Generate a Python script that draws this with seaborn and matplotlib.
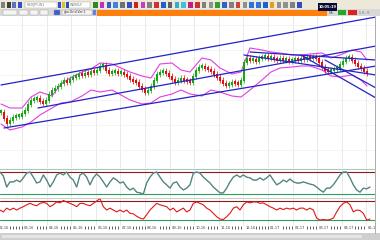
import numpy as np
import pandas as pd
import matplotlib
matplotlib.use("Agg")
import matplotlib.pyplot as plt
import seaborn as sns
from matplotlib.patches import Rectangle

sns.set_style("white")
plt.rcParams['font.family'] = ['DejaVu Sans']

# ---------------- data ----------------
close = [113.8, 113.2, 112.7, 113.0, 113.3, 113.4, 113.4, 113.7, 114.0, 114.6,
         115.0, 115.1, 115.2, 114.9, 114.7, 115.0, 115.6, 116.0, 116.2, 116.4,
         116.7, 117.0, 116.8, 117.1, 117.3, 117.4, 117.6, 117.5, 117.7, 117.6,
         117.9, 117.8, 118.0, 118.4, 118.5, 118.0, 117.7, 117.8, 117.9, 117.7,
         117.8, 117.6, 117.4, 117.1, 116.9, 116.8, 116.4, 116.1, 115.8, 116.0,
         116.4, 117.0, 117.6, 117.8, 117.9, 117.7, 117.4, 117.1, 116.8, 117.0,
         117.2, 117.0, 116.9, 116.8, 117.4, 118.0, 118.3, 118.4, 118.2, 118.1,
         117.9, 117.6, 117.3, 117.0, 116.7, 116.5, 116.6, 116.8, 116.7, 116.6,
         117.0, 118.8, 119.2, 119.0, 119.1, 118.9, 119.2, 119.3, 119.4, 119.2,
         119.3, 119.1, 119.0, 119.2, 119.0, 119.1, 118.9, 119.0, 119.1, 119.0,
         119.2, 119.1, 119.3, 119.2, 119.3, 119.2, 118.8, 118.3, 118.0, 117.9,
         118.0, 118.1, 118.2, 118.6, 118.9, 119.2, 119.3, 119.0, 118.7, 118.4,
         118.2, 117.9, 117.7]

band_day = [0, 3, 7, 10, 13, 17, 20, 23, 27, 30, 33, 37, 40, 43, 47, 50, 53, 57, 60,
            63, 67, 70, 73, 77, 80, 83, 87, 90, 93, 97, 100, 103, 107, 110, 113, 117,
            120, 122]
upper_band = [114.6, 114.2, 114.2, 115.3, 115.8, 115.4, 116.6, 117.2, 117.8, 118.1,
              118.7, 118.6, 118.2, 117.8, 117.4, 117.2, 118.6, 118.7, 118.0, 117.8,
              119.2, 119.0, 118.2, 117.6, 117.8, 120.2, 120.0, 119.8, 119.7, 119.5,
              119.5, 119.6, 119.7, 119.2, 119.5, 120.0, 119.8, 119.0]
lower_band = [112.6, 112.0, 112.3, 112.8, 113.5, 114.2, 114.7, 114.8, 115.4, 116.0,
              115.8, 116.0, 115.5, 115.0, 114.6, 114.7, 115.3, 115.6, 116.0, 115.6,
              115.4, 116.0, 115.8, 115.4, 115.3, 116.0, 117.0, 117.8, 118.2, 118.3,
              118.4, 118.4, 118.0, 117.4, 117.3, 117.5, 117.0, 116.4]

# trend lines: (start day, start price, end day, end price)
trend_start_day = [0, 12.3, 1, 83, 81, 100, 108]
trend_start_price = [116.5, 114.2, 112.2, 119.8, 119.5, 119.5, 119.0]
trend_end_day = [125, 125, 125, 125, 125, 125, 125]
trend_end_price = [123.3, 120.4, 118.4, 119.0, 117.5, 115.2, 116.2]

stoch = [80, 69, 39, 53, 53, 58, 53, 64, 77, 80, 66, 50, 53, 72, 58, 39, 53, 72, 77, 72,
         80, 66, 58, 39, 72, 77, 66, 45, 64, 75, 66, 53, 39, 53, 64, 58, 50, 53, 39, 31,
         36, 25, 23, 20, 50, 66, 77, 80, 66, 53, 45, 36, 50, 53, 39, 31, 36, 45,
         77, 80, 77, 66, 58, 50, 39, 31, 23, 23, 36, 53, 66, 72, 66, 72, 66, 64, 58, 58,
         64, 58, 64, 72, 58, 45, 50, 58, 53, 61, 53, 50, 50, 53, 50, 47, 45, 39, 31, 25,
         36, 36, 45, 58, 72, 80, 80, 64, 45, 31, 25, 36, 34, 39]
rsi = [51, 47, 55, 51, 55, 51, 55, 58, 62, 65, 62, 60, 65, 67, 65, 58, 62, 68, 66, 71,
       68, 65, 62, 58, 65, 65, 62, 60, 65, 70, 75, 58, 51, 55, 51, 47, 51, 47, 51, 44,
       43, 38, 34, 32, 41, 51, 58, 65, 62, 60, 58, 51, 55, 47, 51, 55, 47, 51,
       65, 68, 65, 62, 55, 51, 44, 37, 32, 31, 37, 44, 55, 58, 51, 62, 68, 66, 68, 68,
       65, 66, 62, 58, 55, 51, 55, 52, 55, 53, 55, 51, 55, 55, 51, 55, 51, 34, 30, 31,
       30, 31, 34, 47, 58, 65, 68, 62, 47, 51, 50, 44, 30, 32]

date_labels = ["02-16", "03-16", "04-16", "05-16", "06-16", "07-16", "08-16", "09-16",
               "10-16", "11-16", "12-16", "01-17", "02-17", "03-17", "04-17", "05-17"]

stoch_levels = [80, 20]
rsi_levels = [70, 30]

# ---------------- figure ----------------
W, H = 380, 240
fig = plt.figure(figsize=(3.8, 2.4), dpi=100)
fig.patch.set_facecolor('white')


def fy(py):
    return 1 - py / H


XMIN, XMAX = -0.33, 124.67
PLOT_W = 375 / W
grid_days = [(-2.6 + 24.6 * k - 1) / 3 for k in range(16)]

# main price panel
ax = fig.add_axes([0, fy(168), PLOT_W, (168 - 16) / H])
days = np.arange(len(close))
c = np.array(close)
o = np.r_[c[0], c[:-1]]
body_bot = np.minimum(o, c)
body_top = np.maximum(o, c)
cols = np.where(c >= o, '#12a812', '#e01010')
for g in grid_days[1:]:
    ax.axvline(g, color='#e6e6e6', lw=0.6, zorder=0)
for yv in [110, 112.5, 115, 117.5, 120, 122.5]:
    ax.axhline(yv, color='#f0f0f0', lw=0.5, zorder=0)
ax.vlines(days, body_bot - 0.28, body_top + 0.28, colors=cols, lw=0.5, zorder=3)
ax.bar(days, np.maximum(body_top - body_bot, 0.22) + 0.1, bottom=body_bot - 0.12,
       width=0.8, color=cols, linewidth=0, zorder=3)

sns.lineplot(x=band_day, y=upper_band, ax=ax, color='#e23de2', lw=0.8, zorder=2)
sns.lineplot(x=band_day, y=lower_band, ax=ax, color='#e23de2', lw=0.8, zorder=2)
for sd, sp, ed, ep in zip(trend_start_day, trend_start_price, trend_end_day, trend_end_price):
    ax.plot([sd, ed], [sp, ep], color='#2222c8', lw=0.9, zorder=4)
ax.set_xlim(XMIN, XMAX)
ax.set_ylim(108.2, 123.4)
ax.set_xticks([]); ax.set_yticks([])
ax.set_xlabel(''); ax.set_ylabel('')
for s in ax.spines.values():
    s.set_visible(False)

# stochastic panel
ax2 = fig.add_axes([0, fy(197), PLOT_W, 28 / H])
xs = np.linspace(-0.33, 123.0, len(stoch))
for g in grid_days[1:]:
    ax2.axvline(g, color='#e6e6e6', lw=0.6, zorder=0)
ax2.axhline(stoch_levels[0], color='#8b1a1a', lw=0.8)
ax2.axhline(stoch_levels[1], color='#2e9e5e', lw=0.8)
sns.lineplot(x=xs, y=stoch, ax=ax2, color='#4fa8a0', lw=1.0)
sns.lineplot(x=xs, y=stoch, ax=ax2, color='#707070', lw=0.5)
ax2.set_xlim(XMIN, XMAX); ax2.set_ylim(11.8, 88.2)
ax2.set_xticks([]); ax2.set_yticks([]); ax2.set_xlabel(''); ax2.set_ylabel('')
for k, s in ax2.spines.items():
    s.set_visible(k == 'top')
    s.set_color('#a8c8c0'); s.set_linewidth(0.8)

# RSI panel
ax3 = fig.add_axes([0, fy(226), PLOT_W, 28 / H])
xr = np.linspace(-0.33, 123.0, len(rsi))
for g in grid_days[1:]:
    ax3.axvline(g, color='#e6e6e6', lw=0.6, zorder=0)
ax3.axhline(rsi_levels[0], color='#8b1a1a', lw=0.8)
ax3.axhline(rsi_levels[1], color='#2e9e5e', lw=0.8)
sns.lineplot(x=xr, y=rsi, ax=ax3, color='#e01818', lw=0.8)
ax3.set_xlim(XMIN, XMAX); ax3.set_ylim(17.4, 76.3)
ax3.set_xticks([]); ax3.set_yticks([]); ax3.set_xlabel(''); ax3.set_ylabel('')
for k, s in ax3.spines.items():
    s.set_visible(k == 'top')
    s.set_color('#c0c0c0'); s.set_linewidth(0.6)

# date axis
axd = fig.add_axes([0, fy(233), PLOT_W, 7 / H])
axd.set_xlim(XMIN, XMAX); axd.set_ylim(0, 1)
axd.vlines(days, 0.55, 0.95, colors='#202020', lw=0.5)
for g, lab in zip(grid_days, date_labels):
    axd.text(g + 0.6, 0.7, lab, fontsize=2.6, color='#404040', ha='left', va='center',
             bbox=dict(facecolor='white', edgecolor='none', pad=0.6))
axd.axis('off')

# right price-scale strip
fig.add_artist(Rectangle((PLOT_W, fy(233)), 1 - PLOT_W, (233 - 16) / H,
                         transform=fig.transFigure, facecolor='white', edgecolor='none'))
fig.add_artist(plt.Line2D([PLOT_W, PLOT_W], [fy(233), fy(16)], transform=fig.transFigure,
                          color='#a0a0a0', lw=0.6))

# scrollbar
fig.add_artist(Rectangle((0, 0), 1, 7 / H, transform=fig.transFigure,
                         facecolor='#cfcfcf', edgecolor='none'))
fig.add_artist(Rectangle((2 / W, 2 / H), 360 / W, 3 / H, transform=fig.transFigure,
                         facecolor='#e4e4e4', edgecolor='none'))

# toolbar rows
fig.add_artist(Rectangle((0, fy(9)), 1, 9 / H, transform=fig.transFigure,
                         facecolor='#ece9d8', edgecolor='none'))
fig.add_artist(Rectangle((0, fy(16)), 1, 7 / H, transform=fig.transFigure,
                         facecolor='#d8d8d8', edgecolor='none'))
fig.add_artist(Rectangle((97 / W, fy(16)), 230 / W, 6 / H, transform=fig.transFigure,
                         facecolor='#ff7f0e', edgecolor='none'))
for x0, w0, fc in [(3, 14, '#f4f4f4'), (19, 9, '#f4f4f4'), (30, 8, '#f4f4f4'),
                   (40, 8, '#f4f4f4'), (54, 6, '#3a5ad8'), (62, 30, '#f4f4f4'),
                   (93, 3, '#5080ff')]:
    fig.add_artist(Rectangle((x0 / W, fy(15)), w0 / W, 5 / H, transform=fig.transFigure,
                             facecolor=fc, edgecolor='#9a9a9a', lw=0.3))
fig.text(64 / W, fy(12.5), "gbo.Grid.Ver.1", fontsize=2.3, color='#303030', va='center')
fig.add_artist(Rectangle((338 / W, fy(15)), 8 / W, 5 / H, transform=fig.transFigure,
                         facecolor='#22aa22', edgecolor='none'))
fig.add_artist(Rectangle((348 / W, fy(15)), 9 / W, 5 / H, transform=fig.transFigure,
                         facecolor='#dd2222', edgecolor='none'))
fig.text(329 / W, fy(12.5), "NA", fontsize=2.3, color='#606060', va='center')
fig.text(359 / W, fy(12.5), "1 0 : 0", fontsize=2.3, color='#606060', va='center')

# fields in first toolbar row
for x0, w0, txt in [(25, 32, "USDJPY,W1"), (68, 22, "WEEKLY")]:
    fig.add_artist(Rectangle((x0 / W, fy(8)), w0 / W, 6 / H, transform=fig.transFigure,
                             facecolor='white', edgecolor='#a0a0a0', lw=0.3))
    fig.text((x0 + 2) / W, fy(5), txt, fontsize=2.3, color='#707070', va='center')

icon_colors = ['#808080', '#404040', '#6070c0', '#3050d0']
icon_colors2 = ['#3050d0', '#e0c020', '#2050c0']
icon_colors3 = ['#2a8a2a', '#c030c0', '#3060d0', '#4080e0', '#707070', '#3050c0',
                '#d02020', '#c040c0', '#808080', '#d03030', '#2060d0', '#606060',
                '#30b0d0', '#40c0e0', '#c02080', '#d03030', '#808080', '#909090',
                '#30a030', '#3060d0', '#808080', '#d04040', '#909090', '#3070e0',
                '#3070e0', '#2060d0', '#e0a020', '#909090', '#909090', '#808080',
                '#3050c0']
for i, fc in enumerate(icon_colors):
    fig.add_artist(Rectangle(((1 + 5.5 * i) / W, fy(7.5)), 4 / W, 5 / H,
                             transform=fig.transFigure, facecolor=fc, edgecolor='none'))
for i, fc in enumerate(icon_colors2):
    fig.add_artist(Rectangle(((58 + 4 * i) / W, fy(7.5)), 3 / W, 5 / H,
                             transform=fig.transFigure, facecolor=fc, edgecolor='none'))
for i, fc in enumerate(icon_colors3):
    fig.add_artist(Rectangle(((93 + 6.8 * i) / W, fy(7.5)), 4.5 / W, 5 / H,
                             transform=fig.transFigure, facecolor=fc, edgecolor='none'))

# clock
fig.add_artist(Rectangle((318 / W, fy(10.5)), 19 / W, 7 / H, transform=fig.transFigure,
                         facecolor='#0a0a30', edgecolor='none'))
fig.text(327.5 / W, fy(7), "10:05:19", fontsize=2.6, color='white', ha='center',
         va='center', fontweight='bold')

fig.savefig("out.png", dpi=100, facecolor='white')
